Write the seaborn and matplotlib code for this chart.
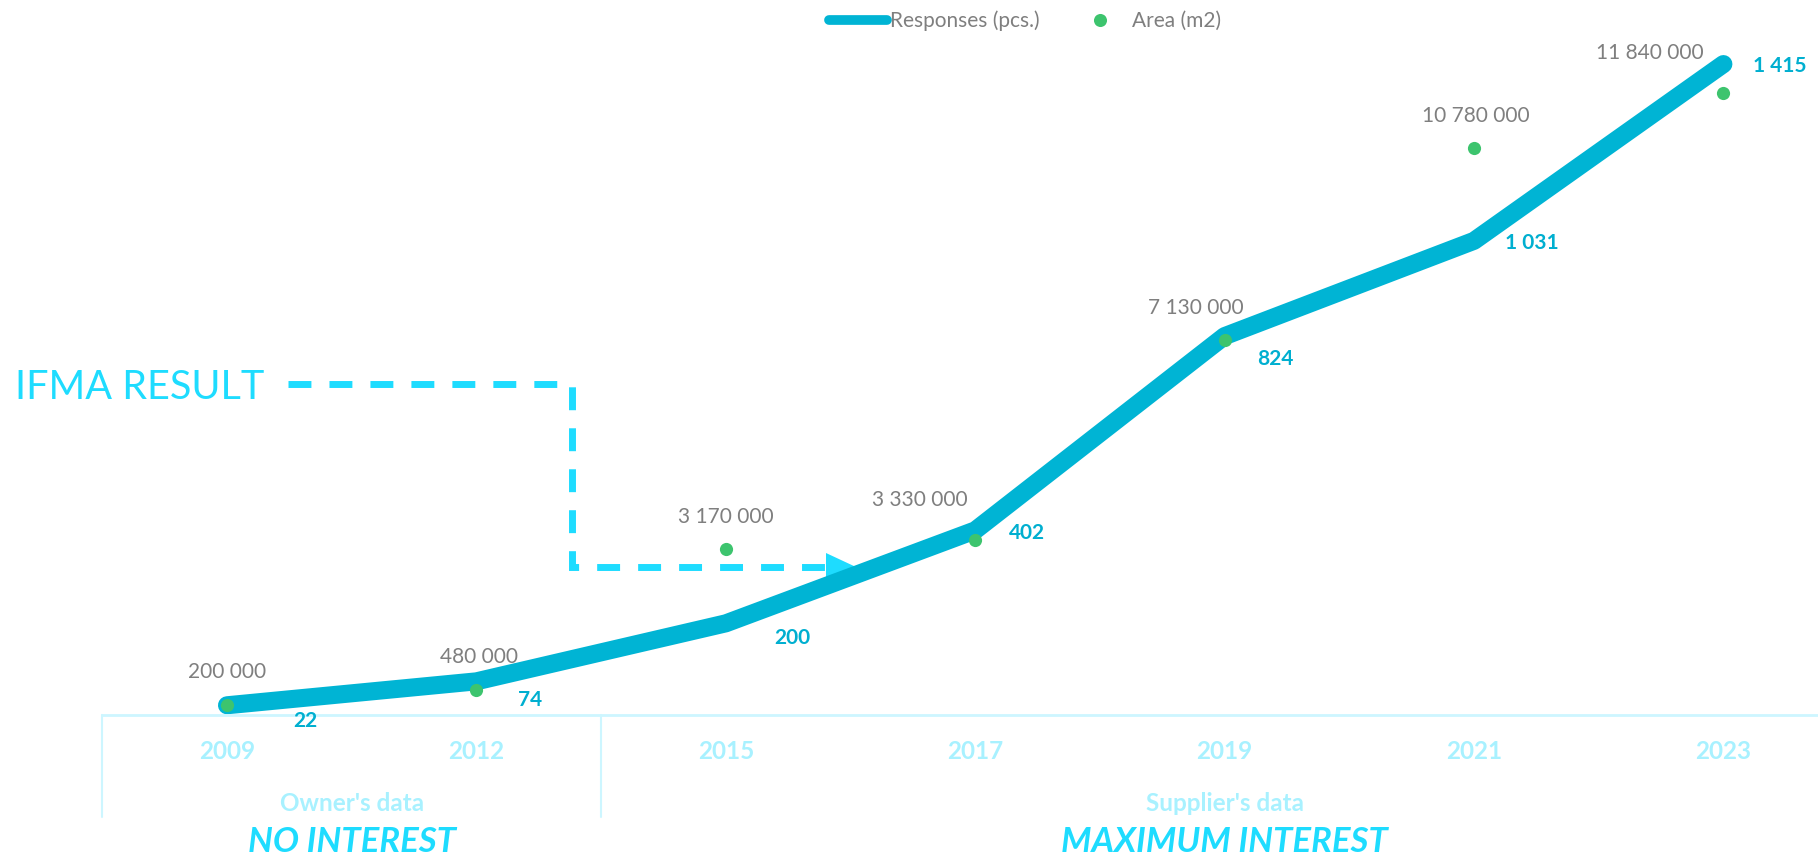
import numpy as np
import pandas as pd
import matplotlib
matplotlib.use("Agg")
import matplotlib.pyplot as plt
import seaborn as sns
from matplotlib.lines import Line2D
from matplotlib.patches import Polygon

# data
years = ["2009", "2012", "2015", "2017", "2019", "2021", "2023"]
responses = [22, 74, 200, 402, 824, 1031, 1415]
area_m2 = [200000, 480000, 3170000, 3330000, 7130000, 10780000, 11840000]
source_labels = ["Owner's data", "Supplier's data"]
interest_labels = ["NO INTEREST", "MAXIMUM INTEREST"]
source_spans = [(0, 1), (2, 6)]  # first / last year index in each group

df = pd.DataFrame({"pos": range(len(years)), "year": years,
                   "responses": responses, "area": area_m2})

# label nudges in pixels (manual placement like in the original)
resp_offsets = [(66, -16), (42, -19), (48, -15), (34, -3), (33, -23), (31, -2), (30, -2)]
area_offsets = [(0, 33), (3, 33), (0, 32), (-55, 40), (-29, 32), (2, 32), (-74, 40)]

W, H = 1818, 858
LINE = "#00b4d4"
GREEN = "#3dc46e"
GREY = "#7f7f7f"
VALUE_BLUE = "#00afd0"
TICK = "#a8f1ff"
AXIS = "#cdf6ff"
CYAN = "#1edcff"

sns.set_theme(style="white")
plt.rcParams["font.family"] = ["Lato", "DejaVu Sans"]

fig = plt.figure(figsize=(W / 100, H / 100), dpi=100)
base = 715.4  # pixel row of the zero line
ax = fig.add_axes([0, 1 - base / H, 1, base / H])

sns.lineplot(data=df, x="pos", y="responses", ax=ax, color=LINE, lw=13,
             solid_capstyle="round", solid_joinstyle="round", zorder=2, legend=False)

ax2 = ax.twinx()
sns.scatterplot(data=df, x="pos", y="area", ax=ax2, color=GREEN, s=90,
                linewidth=0, legend=False, zorder=3)

step = 249.4
ax.set_xlim(-227 / step, (W - 227) / step)
ax2.set_xlim(ax.get_xlim())
ax.set_ylim(0, base / 0.4603)
ax2.set_ylim(0, base / 52.59 * 1e6)

for a in (ax, ax2):
    a.set_xlabel("")
    a.set_ylabel("")
    a.set_yticks([])
    for s in a.spines.values():
        s.set_visible(False)

ax.spines["bottom"].set_visible(True)
ax.spines["bottom"].set_color(AXIS)
ax.spines["bottom"].set_linewidth(2)
ax.spines["bottom"].set_bounds(-0.5, len(years) + 0.5)

ax.set_xticks(df["pos"], years)
ax.tick_params(axis="x", length=0, pad=18, labelsize=17.5, labelcolor=TICK)
for lab in ax.get_xticklabels():
    lab.set_fontweight("bold")
ax2.tick_params(axis="x", length=0, labelbottom=False)

# group boxes under the axis
tr = ax.get_xaxis_transform()
for (lo, hi), src, intr in zip(source_spans, source_labels, interest_labels):
    ax.axvline(lo - 0.5, ymin=-102 / base, ymax=0, clip_on=False, color=AXIS, lw=1.5)
    mid = (lo + hi) / 2
    ax.text(mid, -(811 - base) / base, src, transform=tr, ha="center", va="baseline",
            fontsize=17.5, fontweight="bold", color=TICK)
    ax.text(mid, -(852 - base) / base, intr, transform=tr, ha="center", va="baseline",
            fontsize=25, fontweight="bold", fontstyle="italic", color=CYAN, clip_on=False)

# value labels
for i, row in df.iterrows():
    dx, dy = resp_offsets[i]
    ax.annotate(f"{row.responses:,}".replace(",", " "), (row.pos, row.responses),
                xytext=(dx, dy), textcoords="offset pixels", ha="left", va="center",
                fontsize=15, fontweight="bold", color=VALUE_BLUE)
    dx, dy = area_offsets[i]
    ax2.annotate(f"{row.area:,}".replace(",", " "), (row.pos, row.area),
                 xytext=(dx, dy), textcoords="offset pixels", ha="center", va="center",
                 fontsize=15, color=GREY)

# IFMA RESULT callout
fig.text(15 / W, 1 - 399 / H, "IFMA RESULT", fontsize=28.5, fontweight="normal",
         color=CYAN, ha="left", va="baseline")
px = np.array([288, 572, 572, 826])
py = np.array([384, 384, 567, 567])
ax.plot(px / W, 1 - py / H, transform=fig.transFigure, color=CYAN, lw=5,
        ls=(0, (3.3, 2.6)), dash_capstyle="butt", dash_joinstyle="miter",
        clip_on=False, zorder=1)
head = Polygon([(826 / W, 1 - 553 / H), (826 / W, 1 - 582 / H), (856 / W, 1 - 567 / H)],
               closed=True, transform=fig.transFigure, facecolor=CYAN, edgecolor="none",
               clip_on=False, zorder=1)
ax.add_patch(head)

handles = [Line2D([], [], color=LINE, lw=7, solid_capstyle="round"),
           Line2D([], [], ls="", marker="o", ms=9.4, color=GREEN, markeredgewidth=0)]
fig.legend(handles, ["Responses (pcs.)", "Area (m2)"], loc="center",
           bbox_to_anchor=(1025 / W, 1 - 21 / H), ncol=2, frameon=False, fontsize=15,
           labelcolor=GREY, handlelength=2.8, handletextpad=0.15, columnspacing=1.5)

fig.savefig("out.png", dpi=100, facecolor="white")
